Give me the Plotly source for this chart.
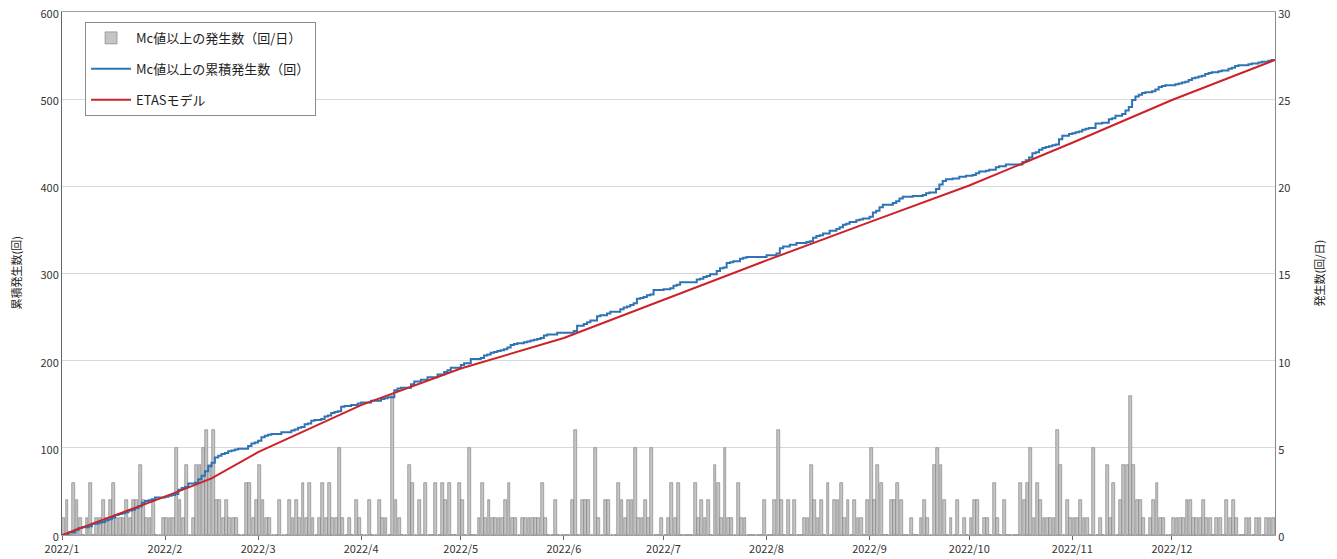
import pandas as pd
import numpy as np
import plotly.graph_objects as go

# Daily counts above Mc (events/day), Jan 1 .. Dec 31 2022
daily_jan = [1,2,0,3,2,1,0,1,3,0,1,1,2,1,2,3,1,1,1,2,1,2,2,4,2,1,1,2,0,0,1]
daily_feb = [1,1,1,5,2,1,4,0,1,4,4,5,6,4,6,2,2,1,2,1,1,1,0,0,3,3,1,2]
daily_mar = [4,2,1,1,0,0,2,0,0,2,1,2,1,3,1,3,1,0,1,3,1,3,1,1,5,1,0,1,0,2,1]
daily_apr = [0,0,2,0,0,2,1,1,0,8,2,1,0,0,4,3,0,2,0,3,0,0,3,0,3,2,3,0,0,3]
daily_may = [2,0,5,0,0,1,3,1,2,1,1,1,1,2,3,1,1,0,1,1,1,1,1,1,3,1,0,0,2,0,0]
daily_jun = [0,0,2,6,0,2,2,2,0,5,1,0,2,2,0,0,3,2,1,2,2,5,1,1,2,1,5,0,0,1]
daily_jul = [0,1,3,1,3,0,0,0,0,3,1,2,1,2,0,4,3,1,5,1,1,0,3,1,1,0,0,0,0,0,2]
daily_aug = [0,0,2,6,2,0,2,0,2,0,0,1,1,4,2,1,2,0,3,0,2,2,3,1,2,0,2,1,1,0,2]
daily_sep = [5,2,4,3,0,0,2,2,3,2,0,0,1,0,0,1,2,1,0,4,5,4,2,0,1,0,2,0,1,0]
daily_oct = [1,2,2,0,1,1,0,3,1,0,2,0,0,0,0,3,2,3,5,1,3,2,1,1,1,1,6,4,0,2,1]
daily_nov = [1,1,2,1,1,0,5,0,1,0,4,1,3,0,2,4,4,8,4,2,2,1,0,1,2,3,1,1,0,0]
daily_dec = [1,1,1,1,2,2,1,1,1,2,1,1,0,1,1,0,2,1,2,1,0,0,1,1,0,1,1,0,1,1,1]

# ETAS model cumulative curve
etas_dates = ["2022-01-01","2022-02-01","2022-02-15","2022-03-01","2022-04-01","2022-05-01",
              "2022-06-01","2022-07-01","2022-08-01","2022-09-01","2022-10-01","2022-11-01",
              "2022-12-01","2023-01-01"]
etas_values = [0, 44, 65, 95, 149, 191, 226, 270, 315, 359, 401, 450, 499, 545]

month_ticks = ["2022-%02d-01" % m for m in range(1, 13)]
month_labels = ["2022/%d" % m for m in range(1, 13)]

daily = (daily_jan + daily_feb + daily_mar + daily_apr + daily_may + daily_jun +
         daily_jul + daily_aug + daily_sep + daily_oct + daily_nov + daily_dec)
dates = pd.date_range("2022-01-01", periods=len(daily), freq="D")
cum = np.cumsum(daily)
cum_x = [pd.Timestamp("2022-01-01")] + list(dates + pd.Timedelta(days=1))
cum_y = [0] + list(cum)

font_jp = "Noto Sans CJK JP"

fig = go.Figure()
fig.add_trace(go.Bar(
    x=dates, y=daily, name="Mc値以上の発生数（回/日）",
    xperiod=86400000, xperiodalignment="middle",
    marker=dict(color="#c4c4c4", line=dict(color="#7a7a7a", width=0.6)),
    width=86400000 * 0.85, yaxis="y", legendgroup="a",
))
fig.add_trace(go.Scatter(
    x=cum_x, y=cum_y, name="Mc値以上の累積発生数（回）", mode="lines",
    line=dict(color="#2e74b5", width=2, shape="hv"), yaxis="y2", legendgroup="b",
))
fig.add_trace(go.Scatter(
    x=pd.to_datetime(etas_dates), y=etas_values, name="ETASモデル", mode="lines",
    line=dict(color="#cc2229", width=2), yaxis="y2", legendgroup="c",
))

fig.update_layout(
    width=1329, height=551,
    margin=dict(l=54, r=62, t=4, b=24, autoexpand=False),
    paper_bgcolor="white", plot_bgcolor="white",
    font=dict(family=font_jp, size=11, color="#333333"),
    bargap=0,
    showlegend=True,
    legend=dict(x=0.019, y=0.981, xanchor="left", yanchor="top",
                bgcolor="white", bordercolor="#8c8c8c", borderwidth=1,
                font=dict(family=font_jp, size=13, color="#222222"),
                tracegroupgap=11, traceorder="grouped", itemwidth=40),
    xaxis=dict(type="date", range=["2022-01-01", "2023-01-01"],
               tickvals=month_ticks, ticktext=month_labels,
               ticks="outside", ticklen=4, tickcolor="#666666",
               showgrid=False, showline=True, linecolor="#a0a0a0", mirror=True,
               tickfont=dict(size=11, color="#333333"), zeroline=False,
               automargin=False),
    yaxis=dict(side="right", range=[0, 30], tickvals=list(range(0, 31, 5)),
               showgrid=False, showline=True, linecolor="#888888",
               ticks="", tickfont=dict(size=11, color="#333333"), zeroline=False,
               automargin=False, ticklabeloverflow="allow", ticklabelshift=2),
    yaxis2=dict(side="left", overlaying="y", range=[0, 600],
                tickvals=list(range(0, 601, 100)),
                showgrid=True, gridcolor="#d9d9d9", gridwidth=1,
                showline=True, linecolor="#666666", ticks="",
                tickfont=dict(size=11, color="#333333"), zeroline=False,
                automargin=False, ticklabeloverflow="allow", ticklabelshift=2),
    annotations=[
        dict(text="累積発生数(回)", x=0, xref="paper", y=0.5, yref="paper",
             xanchor="right", yanchor="middle", xshift=-37, textangle=-90,
             showarrow=False, font=dict(family=font_jp, size=11, color="#222222")),
        dict(text="発生数(回/日)", x=1, xref="paper", y=0.5, yref="paper",
             xanchor="left", yanchor="middle", xshift=33, textangle=-90,
             showarrow=False, font=dict(family=font_jp, size=11, color="#222222")),
    ],
)

fig.write_html("out.html")
